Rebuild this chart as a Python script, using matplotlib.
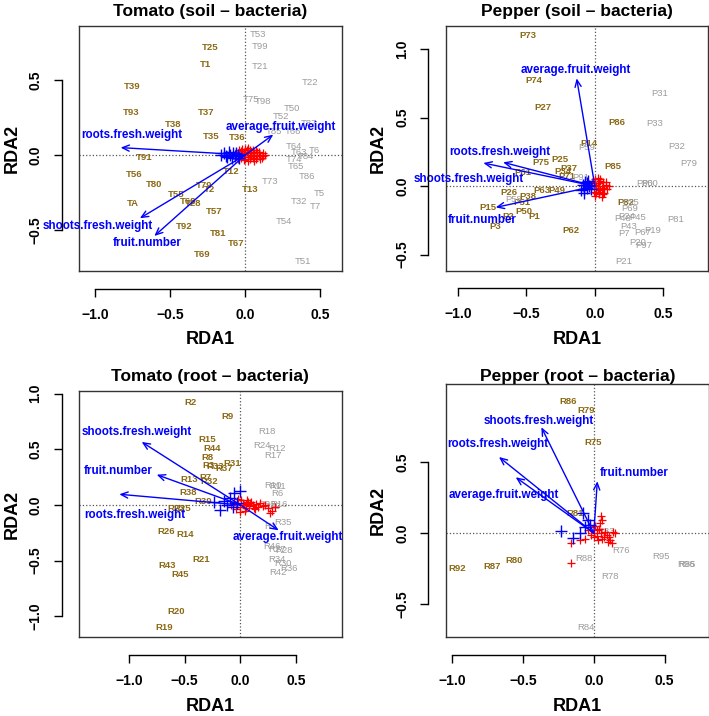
import matplotlib
matplotlib.use("Agg")
import matplotlib.pyplot as plt

plt.rcParams['font.family'] = ['Liberation Sans', 'DejaVu Sans']
plt.rcParams['font.weight'] = 'bold'

BROWN = '#8B6914'
GRAY = '#9C9C9C'

# ---------------- Tomato (soil - bacteria) ----------------
ts_brown_names = ['T25', 'T1', 'T39', 'T93', 'T37', 'T38', 'T35', 'T36', 'T91', 'T12', 'T56', 'T80',
                  'T79', 'T2', 'T13', 'T55', 'T68', 'T28', 'TA', 'T57', 'T92', 'T81', 'T67', 'T69']
ts_brown_x = [-0.231, -0.264, -0.752, -0.758, -0.259, -0.477, -0.226, -0.051, -0.670, -0.091, -0.741, -0.610,
              -0.271, -0.239, 0.031, -0.461, -0.379, -0.344, -0.749, -0.206, -0.408, -0.182, -0.064, -0.284]
ts_brown_y = [0.716, 0.605, 0.455, 0.284, 0.282, 0.202, 0.122, 0.118, -0.020, -0.113, -0.133, -0.195,
              -0.204, -0.228, -0.228, -0.262, -0.308, -0.322, -0.326, -0.377, -0.477, -0.521, -0.588, -0.659]
ts_gray_names = ['T53', 'T99', 'T21', 'T22', 'T75', 'T98', 'T50', 'T52', 'T87', 'T85', 'T66', 'T64',
                 'T63', 'T6', 'T84', 'T74', 'T65', 'T86', 'T73', 'T5', 'T32', 'T7', 'T54', 'T51']
ts_gray_x = [0.084, 0.095, 0.095, 0.432, 0.035, 0.120, 0.308, 0.235, 0.424, 0.191, 0.319, 0.322,
             0.357, 0.457, 0.404, 0.326, 0.335, 0.410, 0.164, 0.492, 0.355, 0.463, 0.255, 0.381]
ts_gray_y = [0.800, 0.721, 0.588, 0.479, 0.366, 0.355, 0.310, 0.257, 0.206, 0.153, 0.157, 0.055,
             0.016, 0.029, -0.007, -0.029, -0.080, -0.144, -0.177, -0.255, -0.310, -0.344, -0.443, -0.710]
ts_arrow_names = ['roots.fresh.weight', 'shoots.fresh.weight', 'fruit.number', 'average.fruit.weight']
ts_arrow_x = [-0.829, -0.701, -0.605, 0.186]
ts_arrow_y = [0.049, -0.421, -0.539, 0.135]
ts_label_x = [-0.756, -0.978, -0.650, 0.237]
ts_label_y = [0.135, -0.470, -0.585, 0.186]
ts_red_x = [-0.07, -0.06, -0.05, -0.04, -0.03, -0.02, -0.01, 0.0, 0.01, 0.02, 0.03, 0.04, 0.05, 0.06,
            0.07, 0.08, 0.09, 0.10, 0.11, 0.12, 0.13, -0.05, -0.03, -0.01, 0.01, 0.03, 0.05, 0.07, 0.09,
            -0.04, -0.02, 0.0, 0.02, 0.04, 0.06, 0.08, 0.0, 0.02, 0.04, 0.03, -0.02, 0.06, 0.10, 0.12]
ts_red_y = [0.0, 0.02, -0.01, 0.03, -0.02, 0.04, 0.01, -0.03, 0.02, -0.04, 0.03, 0.0, -0.02, 0.01,
            0.03, -0.01, 0.02, 0.0, -0.02, 0.01, 0.0, -0.03, 0.025, -0.035, 0.035, -0.025, 0.03, -0.03,
            -0.01, 0.01, -0.01, 0.015, 0.045, 0.02, -0.04, 0.02, 0.04, -0.015, -0.01, 0.01, 0.0, 0.0,
            -0.025, -0.01]
ts_blue_x = [-0.16, -0.14, -0.12, -0.11, -0.10, -0.09, -0.08, -0.07, -0.06, -0.05, -0.13, -0.04]
ts_blue_y = [0.0, 0.01, -0.015, 0.02, 0.0, -0.02, 0.01, -0.01, 0.015, 0.0, -0.005, -0.02]

# ---------------- Pepper (soil - bacteria) ----------------
ps_brown_names = ['P73', 'P74', 'P27', 'P86', 'P14', 'P85', 'P75', 'P25', 'P37', 'P34', 'P71', 'P61',
                  'P26', 'P38', 'P63', 'P49', 'P51', 'P15', 'P2', 'P50', 'P1', 'P3', 'P62', 'P82']
ps_brown_x = [-0.488, -0.444, -0.378, 0.157, -0.045, 0.130, -0.393, -0.252, -0.189, -0.230, -0.206, -0.527,
              -0.624, -0.488, -0.388, -0.281, -0.529, -0.780, -0.636, -0.515, -0.442, -0.724, -0.176, 0.225]
ps_brown_y = [1.101, 0.770, 0.573, 0.463, 0.313, 0.145, 0.174, 0.191, 0.128, 0.106, 0.069, 0.099,
              -0.045, -0.072, -0.028, -0.028, -0.118, -0.157, -0.218, -0.184, -0.218, -0.291, -0.327, -0.118]
ps_gray_names = ['P31', 'P33', 'P32', 'P79', 'P59', 'P91', 'P58', 'P80', 'P60', 'P35', 'P69', 'P81',
                 'P48', 'P24', 'P45', 'P43', 'P7', 'P67', 'P19', 'P20', 'P97', 'P21']
ps_gray_x = [0.473, 0.439, 0.595, 0.687, -0.062, -0.103, -0.595, 0.366, 0.400, 0.262, 0.252, 0.590,
             0.201, 0.233, 0.310, 0.245, 0.213, 0.352, 0.424, 0.315, 0.354, 0.213]
ps_gray_y = [0.678, 0.454, 0.288, 0.167, 0.281, 0.064, -0.094, 0.021, 0.021, -0.118, -0.162, -0.242,
             -0.235, -0.223, -0.228, -0.296, -0.349, -0.337, -0.320, -0.413, -0.434, -0.553]
ps_arrow_names = ['average.fruit.weight', 'roots.fresh.weight', 'shoots.fresh.weight', 'fruit.number']
ps_arrow_x = [-0.133, -0.814, -0.670, -0.724]
ps_arrow_y = [0.787, 0.169, 0.174, -0.155]
ps_label_x = [-0.140, -0.697, -0.923, -0.821]
ps_label_y = [0.848, 0.247, 0.050, -0.250]
ps_red_x = [-0.03, -0.02, -0.01, 0.0, 0.01, 0.02, 0.03, 0.04, 0.05, 0.06, 0.07, 0.08, 0.09, 0.10,
            0.0, 0.02, 0.04, 0.06, 0.08, -0.01, 0.01, 0.03, 0.05, 0.07, 0.02, 0.04, 0.0, 0.03, 0.06, 0.01]
ps_red_y = [0.0, 0.03, -0.04, 0.05, -0.02, 0.02, -0.06, 0.04, -0.01, 0.03, -0.05, 0.01, -0.02, 0.0,
            -0.07, 0.06, -0.03, -0.06, 0.03, 0.01, -0.05, 0.02, -0.08, -0.02, -0.01, 0.05, 0.02, -0.04, 0.0, 0.0]
ps_blue_x = [-0.10, -0.09, -0.08, -0.07, -0.06, -0.05, -0.04, -0.03, -0.08, -0.06]
ps_blue_y = [-0.03, 0.01, -0.05, 0.03, -0.01, 0.04, 0.0, -0.02, -0.02, 0.02]

# ---------------- Tomato (root - bacteria) ----------------
tr_brown_names = ['R2', 'R9', 'R15', 'R44', 'R8', 'R3', 'R33', 'R37', 'R31', 'R13', 'R7', 'R32',
                  'R38', 'R39', 'R23', 'R25', 'R26', 'R14', 'R21', 'R43', 'R45', 'R20', 'R19']
tr_brown_x = [-0.446, -0.114, -0.296, -0.254, -0.296, -0.287, -0.228, -0.144, -0.072, -0.458, -0.311, -0.281,
              -0.467, -0.332, -0.572, -0.518, -0.668, -0.497, -0.356, -0.656, -0.542, -0.578, -0.683]
tr_brown_y = [0.922, 0.796, 0.590, 0.506, 0.425, 0.356, 0.341, 0.326, 0.368, 0.225, 0.243, 0.207,
              0.111, 0.030, -0.033, -0.033, -0.240, -0.266, -0.494, -0.545, -0.626, -0.955, -1.105]
tr_gray_names = ['R18', 'R24', 'R12', 'R17', 'R10', 'R11', 'R6', 'R22', 'R29', 'R16', 'R1', 'R35',
                 'R46', 'R27', 'R28', 'R34', 'R30', 'R36', 'R42']
tr_gray_x = [0.243, 0.198, 0.332, 0.290, 0.290, 0.332, 0.332, 0.237, 0.281, 0.350, 0.272, 0.380,
             0.281, 0.326, 0.392, 0.326, 0.380, 0.434, 0.341]
tr_gray_y = [0.659, 0.530, 0.506, 0.443, 0.174, 0.162, 0.105, 0.0, -0.015, 0.0, -0.192, -0.162,
             -0.371, -0.401, -0.410, -0.491, -0.530, -0.569, -0.605]
tr_arrow_names = ['shoots.fresh.weight', 'fruit.number', 'roots.fresh.weight', 'average.fruit.weight']
tr_arrow_x = [-0.886, -0.751, -1.087, 0.344]
tr_arrow_y = [0.566, 0.272, 0.096, -0.228]
tr_label_x = [-0.931, -1.096, -0.946, 0.422]
tr_label_y = [0.653, 0.302, -0.093, -0.290]
tr_red_x = [-0.08, -0.06, -0.04, -0.02, 0.0, 0.02, 0.04, 0.06, 0.08, 0.10, 0.12, 0.14, 0.16, 0.18,
            0.20, 0.22, 0.25, 0.28, 0.31, -0.03, 0.01, 0.05, 0.09, 0.13, 0.03, 0.07, 0.11, 0.0, 0.05, 0.27]
tr_red_y = [0.0, 0.03, -0.04, 0.05, -0.02, 0.02, -0.05, 0.04, -0.01, 0.03, -0.03, 0.01, -0.02, 0.02,
            -0.01, 0.0, -0.03, -0.05, -0.02, 0.01, 0.04, -0.03, 0.02, -0.04, 0.0, 0.03, 0.0, -0.06, 0.01, -0.07]
tr_blue_x = [-0.240, -0.180, -0.060, -0.006, -0.090, -0.120, -0.144, -0.03, -0.07]
tr_blue_y = [0.024, -0.042, 0.108, 0.123, 0.063, 0.0, 0.033, 0.02, -0.02]

# ---------------- Pepper (root - bacteria) ----------------
pr_brown_names = ['R86', 'R79', 'R75', 'R81', 'R92', 'R87', 'R80']
pr_brown_x = [-0.184, -0.052, -0.003, -0.135, -0.967, -0.720, -0.563]
pr_brown_y = [0.930, 0.864, 0.636, 0.140, -0.253, -0.239, -0.192]
pr_gray_names = ['R83', 'R76', 'R88', 'R78', 'R95', 'R96', 'R85', 'R84']
pr_gray_x = [0.084, 0.194, -0.069, 0.115, 0.477, 0.648, 0.660, -0.052]
pr_gray_y = [0.011, -0.123, -0.178, -0.304, -0.163, -0.222, -0.222, -0.669]
pr_arrow_names = ['shoots.fresh.weight', 'roots.fresh.weight', 'average.fruit.weight', 'fruit.number']
pr_arrow_x = [-0.370, -0.669, -0.551, 0.025]
pr_arrow_y = [0.747, 0.537, 0.394, 0.366]
pr_label_x = [-0.386, -0.680, -0.638, 0.284]
pr_label_y = [0.794, 0.631, 0.267, 0.424]
pr_red_x = [0.054, 0.042, 0.136, 0.113, 0.127, -0.158, -0.158, -0.099, 0.0, 0.02, 0.04, 0.06, 0.08,
            0.10, -0.02, -0.04, 0.01, 0.03, 0.05, 0.07, 0.09, 0.11, -0.06, 0.0, 0.02, 0.15, -0.03, 0.06]
pr_red_y = [0.122, 0.068, 0.009, -0.049, -0.071, -0.214, -0.073, -0.049, 0.0, -0.02, 0.03, -0.04, 0.01,
            -0.06, -0.01, 0.02, 0.05, -0.05, 0.0, -0.03, -0.01, -0.03, -0.04, -0.03, 0.02, 0.0, 0.04, 0.09]
pr_blue_x = [-0.228, -0.146, -0.099, -0.075, -0.040, -0.064, -0.028]
pr_blue_y = [0.016, -0.031, 0.0, 0.141, 0.092, 0.045, 0.056]

FIG_W, FIG_H = 709, 716
fig = plt.figure(figsize=(FIG_W / 100, FIG_H / 100), dpi=100)


def fx(px):
    return px / FIG_W


def fy(py):
    return 1 - py / FIG_H


def tick_text(v):
    return ('\u2212%.1f' % -v) if v < 0 else '%.1f' % v


def panel(box, title, title_y, xlim, ylim, xticks, yticks,
          brown, gray, arrows, red, blue, xlab_y):
    left, top, right, bottom = box
    rect = [fx(left), fy(bottom), fx(right) - fx(left), fy(top) - fy(bottom)]
    ax = fig.add_axes(rect)
    ax.set_xlim(xlim)
    ax.set_ylim(ylim)
    ax.set_xticks([])
    ax.set_yticks([])
    for s in ax.spines.values():
        s.set_linewidth(1.0)
        s.set_color('#333333')

    ax.axhline(0, color='#555555', ls=':', lw=0.9, zorder=1)
    ax.axvline(0, color='#555555', ls=':', lw=0.9, zorder=1)

    for n, x, y in zip(*brown):
        ax.text(x, y, n, color=BROWN, fontsize=6.8, fontweight='bold',
                ha='center', va='center', zorder=2)
    for n, x, y in zip(*gray):
        ax.text(x, y, n, color=GRAY, fontsize=6.8, fontweight='normal',
                ha='center', va='center', zorder=2)

    ax.plot(red[0], red[1], ls='none', marker='+', color='red', ms=6, mew=0.9, zorder=3)
    ax.plot(blue[0], blue[1], ls='none', marker='+', color='blue', ms=9, mew=1.0, zorder=3)

    names, ax_x, ax_y, lx, ly = arrows
    for n, x, y, tx, ty in zip(names, ax_x, ax_y, lx, ly):
        ax.annotate('', xy=(x, y), xytext=(0, 0),
                    arrowprops=dict(arrowstyle='->,head_length=0.5,head_width=0.22',
                                    color='blue', lw=1.0, shrinkA=0, shrinkB=0), zorder=4)
        ax.text(tx, ty, n, color='blue', fontsize=8.4, fontweight='bold',
                ha='center', va='center', zorder=5)

    # R-style detached axes
    at = fig.add_axes(rect)
    at.set_xlim(xlim)
    at.set_ylim(ylim)
    at.patch.set_visible(False)
    at.spines['top'].set_visible(False)
    at.spines['right'].set_visible(False)
    for side in ('bottom', 'left'):
        at.spines[side].set_position(('outward', 12.6))
        at.spines[side].set_linewidth(1.0)
    at.spines['bottom'].set_bounds(xticks[0], xticks[-1])
    at.spines['left'].set_bounds(yticks[0], yticks[-1])
    at.set_xticks(xticks)
    at.set_yticks(yticks)
    at.set_xticklabels([tick_text(v) for v in xticks], fontsize=10, fontweight='bold')
    at.set_yticklabels([tick_text(v) for v in yticks], fontsize=10, fontweight='bold',
                       rotation=90, va='center')
    at.tick_params(direction='out', length=5.8, width=1.0, pad=8)

    cx = (left + right) / 2
    fig.text(fx(cx), fy(title_y), title, ha='center', va='center',
             fontsize=12.5, fontweight='bold')
    fig.text(fx(cx), fy(xlab_y), 'RDA1', ha='center', va='center',
             fontsize=13, fontweight='bold')
    fig.text(fx(left - 67), fy((top + bottom) / 2), 'RDA2', ha='center', va='center',
             fontsize=13, fontweight='bold', rotation=90)


panel((79, 26, 341.7, 271), 'Tomato (soil \u2013 bacteria)', 11.7,
      (-1.106, 0.641), (-0.772, 0.858), [-1.0, -0.5, 0.0, 0.5], [-0.5, 0.0, 0.5],
      (ts_brown_names, ts_brown_x, ts_brown_y), (ts_gray_names, ts_gray_x, ts_gray_y),
      (ts_arrow_names, ts_arrow_x, ts_arrow_y, ts_label_x, ts_label_y),
      (ts_red_x, ts_red_y), (ts_blue_x, ts_blue_y), 339.3)

panel((445.7, 26, 708.3, 270.7), 'Pepper (soil \u2013 bacteria)', 11.7,
      (-1.089, 0.828), (-0.617, 1.169), [-1.0, -0.5, 0.0, 0.5], [-0.5, 0.0, 0.5, 1.0],
      (ps_brown_names, ps_brown_x, ps_brown_y), (ps_gray_names, ps_gray_x, ps_gray_y),
      (ps_arrow_names, ps_arrow_x, ps_arrow_y, ps_label_x, ps_label_y),
      (ps_red_x, ps_red_y), (ps_blue_x, ps_blue_y), 339.3)

panel((79, 391.3, 341.7, 637.3), 'Tomato (root \u2013 bacteria)', 376.3,
      (-1.449, 0.910), (-1.189, 1.021), [-1.0, -0.5, 0.0, 0.5], [-1.0, -0.5, 0.0, 0.5, 1.0],
      (tr_brown_names, tr_brown_x, tr_brown_y), (tr_gray_names, tr_gray_x, tr_gray_y),
      (tr_arrow_names, tr_arrow_x, tr_arrow_y, tr_label_x, tr_label_y),
      (tr_red_x, tr_red_y), (tr_blue_x, tr_blue_y), 706.3)

panel((445.7, 384, 709, 637.3), 'Pepper (root \u2013 bacteria)', 376.3,
      (-1.045, 0.813), (-0.735, 1.052), [-1.0, -0.5, 0.0, 0.5], [-0.5, 0.0, 0.5],
      (pr_brown_names, pr_brown_x, pr_brown_y), (pr_gray_names, pr_gray_x, pr_gray_y),
      (pr_arrow_names, pr_arrow_x, pr_arrow_y, pr_label_x, pr_label_y),
      (pr_red_x, pr_red_y), (pr_blue_x, pr_blue_y), 706.3)

fig.savefig('out.png', dpi=100)
